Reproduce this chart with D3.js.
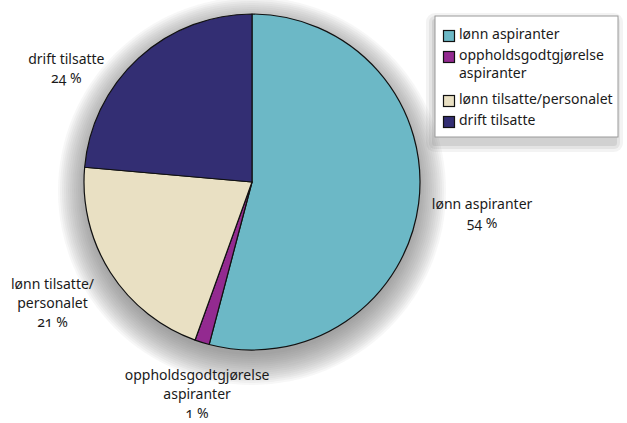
<!DOCTYPE html>
<html>
<head>
<meta charset="utf-8">
<script src="https://cdn.jsdelivr.net/npm/d3@7"></script>
<style>
  body { margin: 0; background: #fff; }
  svg text { font-family: "Noto Sans", sans-serif; font-size: 14px; fill: #1a1a1a; font-feature-settings: "onum"; }
</style>
</head>
<body>
<script>
var width = 627, height = 423;

var categories = ["lønn aspiranter", "oppholdsgodtgjørelse aspiranter", "lønn tilsatte/personalet", "drift tilsatte"];
var values = [54.1, 1.4, 20.9, 23.6];
var percentLabels = ["54 %", "1 %", "21 %", "24 %"];
var sliceLabels = [["lønn aspiranter"], ["oppholdsgodtgjørelse", "aspiranter"], ["lønn tilsatte/", "personalet"], ["drift tilsatte"]];
var legendLines = [["lønn aspiranter"], ["oppholdsgodtgjørelse", "aspiranter"], ["lønn tilsatte/personalet"], ["drift tilsatte"]];

var color = d3.scaleOrdinal()
    .domain(categories)
    .range(["#6cb8c6", "#932a90", "#e9e0c3", "#332e73"]);

var cx = 252, cy = 182, radius = 168;

var svg = d3.select("body")
    .append("svg")
    .attr("width", width)
    .attr("height", height);

// soft shadow under the pie, built from stacked translucent rings
var shadow = svg.append("g").attr("class", "shadow");
d3.range(16).forEach(function(k){
  shadow.append("circle")
      .attr("cx", cx)
      .attr("cy", cy + 9)
      .attr("r", radius + 26 - k * 2)
      .attr("fill", "#666")
      .attr("fill-opacity", 0.055);
});

var pie = d3.pie().sort(null).value(function(d){ return d; });
var arcs = pie(values);
var arc = d3.arc().innerRadius(0).outerRadius(radius);
var labelArc = d3.arc().innerRadius(232).outerRadius(232);

var g = svg.append("g").attr("transform", "translate(" + cx + "," + cy + ")");

g.selectAll("path.slice")
    .data(arcs)
  .enter().append("path")
    .attr("class", "slice")
    .attr("d", arc)
    .attr("fill", function(d, i){ return color(categories[i]); })
    .attr("stroke", "#111")
    .attr("stroke-width", 1.2)
    .attr("stroke-linejoin", "round");

// small layout nudges so labels sit where the original puts them
var nudge = [[0, 2], [14, -10], [-4, -4], [-29, 58]];
var lineH = 19;

var labels = g.selectAll("g.label")
    .data(arcs)
  .enter().append("g")
    .attr("class", "label")
    .attr("transform", function(d, i){
      var c = labelArc.centroid(d);
      return "translate(" + (c[0] + nudge[i][0]) + "," + (c[1] + nudge[i][1]) + ")";
    });

labels.each(function(d, i){
  var lines = sliceLabels[i].concat([percentLabels[i]]);
  var t = d3.select(this).append("text").attr("text-anchor", "middle");
  var y0 = -(lines.length - 1) * lineH / 2 + 5;
  lines.forEach(function(l, j){
    t.append("tspan").attr("x", 0).attr("y", y0 + j * lineH).text(l);
  });
});

// legend
var legend = svg.append("g").attr("transform", "translate(435,16)");
[[9, 0.08], [6, 0.1], [3, 0.14]].forEach(function(s){
  legend.append("rect")
      .attr("x", -s[0]).attr("y", 4 - s[0] + 2)
      .attr("width", 183 + 2 * s[0] - 4).attr("height", 121 + 2 * s[0])
      .attr("rx", s[0])
      .attr("fill", "#666")
      .attr("opacity", s[1]);
});
legend.append("rect")
    .attr("width", 183).attr("height", 121)
    .attr("fill", "#fff")
    .attr("stroke", "#9a9a9a")
    .attr("stroke-width", 1);

var rowY = [23, 44, 88, 109];
categories.forEach(function(c, i){
  var row = legend.append("g").attr("transform", "translate(0," + rowY[i] + ")");
  row.append("rect")
      .attr("x", 8.5).attr("y", -8.5).attr("width", 11).attr("height", 11)
      .attr("fill", color(c)).attr("stroke", "#111").attr("stroke-width", 1.2);
  var t = row.append("text").attr("x", 24);
  legendLines[i].forEach(function(l, j){
    t.append("tspan").attr("x", 24).attr("y", j * 18).text(l);
  });
});
</script>
</body>
</html>
